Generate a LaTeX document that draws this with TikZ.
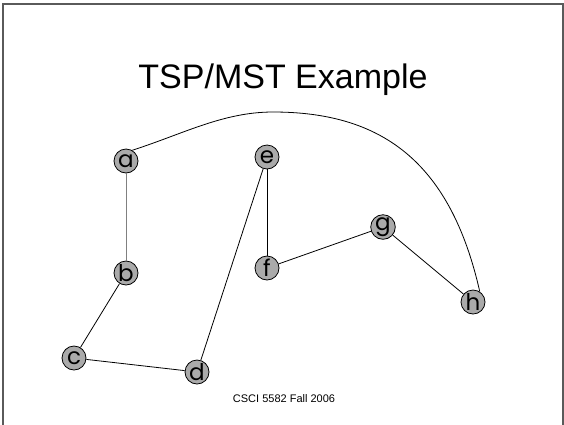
\documentclass[tikz,border=0pt]{standalone}
\usepackage{fontspec}
\setmainfont{Liberation Sans}
\newfontfamily\lblfont{Poppins}
\definecolor{nodegray}{RGB}{170,170,170}
\definecolor{framegray}{RGB}{90,90,90}
\tikzset{
  vtx/.style={circle, draw=black, fill=nodegray, line width=0.8pt, minimum size=24pt, inner sep=0pt, font=\lblfont\fontsize{23}{23}\selectfont},
  edge/.style={draw=black, line width=0.8pt},
}
\begin{document}
\begin{tikzpicture}[x=1pt,y=-1pt]
\useasboundingbox (0,0) rectangle (564,424);
\draw[framegray, line width=1.5pt] (3,430) -- (3,4) -- (563,4) -- (563,430);
\node[font=\fontsize{34}{34}\selectfont, anchor=base, inner sep=0pt] (title) at (283,88) {TSP/MST Example};
\node[font=\fontsize{11}{11}\selectfont, anchor=base, inner sep=0pt] (foot) at (284,402) {CSCI 5582 Fall 2006};
\node[vtx] (a) at (126,161) {a};
\node[vtx] (b) at (126,273) {b};
\node[vtx] (c) at (74,358) {c};
\node[vtx] (d) at (197,372) {d};
\node[vtx] (e) at (267,157) {e};
\node[vtx] (f) at (267,268) {f};
\node[vtx] (g) at (383,227) {g};
\node[vtx] (h) at (473,302) {h};
\coordinate (peak) at (273,112);
\draw[edge, draw=gray] (a) -- (b);
\draw[edge] (b) -- (c);
\draw[edge] (c) -- (d);
\draw[edge] (d) -- (e);
\draw[edge] (e) -- (f);
\draw[edge] (f) -- (g);
\draw[edge] (g) -- (h);
\draw[edge] (a.60) .. controls (183,134) and (223,112) .. (peak) .. controls (380,112) and (450,160) .. (h.57);
\end{tikzpicture}
\end{document}
